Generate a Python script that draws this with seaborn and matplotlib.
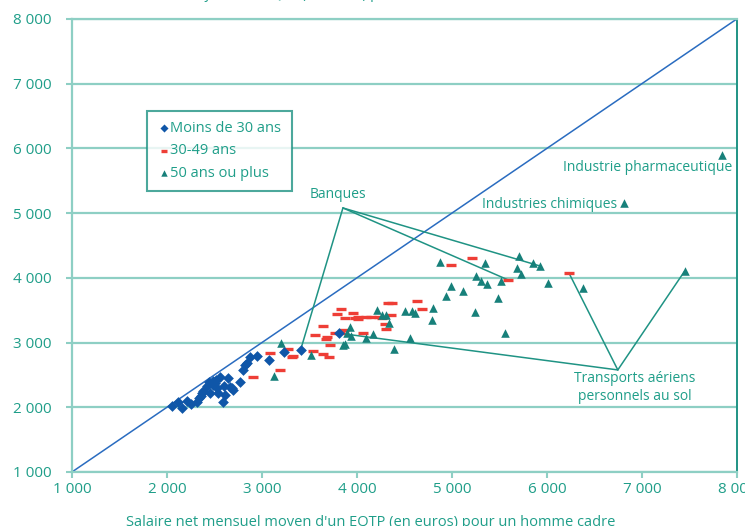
import pandas as pd
import matplotlib.pyplot as plt
from matplotlib.ticker import FuncFormatter
import seaborn as sns

# Style
sns.set_theme(style="white")
plt.rcParams.update({
    'font.family': ['Open Sans', 'DejaVu Sans'],
    'font.size': 10,
})

TEAL_TXT = '#1f9e89'
TEAL_LINE = '#1f9384'
GRID = '#8ecfc4'
BLUE = '#0f56a8'
RED = '#ee3e36'
GREEN = '#17807a'

# Data: x = salaire homme cadre, y = salaire femme cadre (euros)
blue_x = [2049, 2116, 2155, 2207, 2313, 2337, 2365, 2379, 2453, 2470, 2484, 2505,
          2540, 2558, 2593, 2610, 2642, 2663, 2684, 2695, 2768, 2803, 2821, 2839,
          2874, 2944, 3077, 3235, 3407, 3813, 2420, 2490, 2520, 2445, 2530, 2360,
          2600, 2250]
blue_y = [2020, 2087, 1989, 2102, 2087, 2144, 2216, 2252, 2216, 2371, 2406, 2376,
          2216, 2473, 2087, 2190, 2453, 2314, 2298, 2267, 2396, 2577, 2654, 2685,
          2782, 2793, 2731, 2859, 2885, 3144, 2330, 2340, 2420, 2390, 2300, 2180,
          2330, 2050]

red_x = [2902, 3084, 3189, 3277, 3313, 3329, 3534, 3639, 3708, 3558, 3639, 3687,
         3674, 3716, 3786, 3828, 3877, 3961, 3979, 4014, 4014, 4060, 4095, 4144,
         4235, 4260, 4298, 4302, 4329, 4365, 4358, 4635, 4681, 3821, 3768, 3863,
         4986, 5207, 5592, 6234]
red_y = [2464, 2835, 2576, 2896, 2773, 2793, 2875, 2819, 2782, 3117, 3257, 3091,
         3051, 2963, 3442, 3515, 3376, 3453, 3376, 3360, 3400, 3153, 3391, 3391,
         3391, 3376, 3283, 3206, 3607, 3607, 3427, 3643, 3519, 3153, 3153, 3195,
         4199, 4303, 3968, 4071]

green_x = [3129, 3200, 3516, 3849, 3877, 3891, 3926, 3937, 4095, 4165, 4214, 4260,
           4305, 4340, 4389, 4502, 4561, 4582, 4607, 4793, 4803, 4874, 4937, 4986,
           5119, 5245, 5253, 5302, 5350, 5365, 5484, 5512, 5561, 5681, 5708, 5723,
           5856, 5926, 6014, 6382, 7452, 6810, 7839]
green_y = [2484, 2998, 2804, 2958, 2978, 3144, 3236, 3107, 3076, 3128, 3504, 3427,
           3427, 3298, 2901, 3488, 3066, 3488, 3453, 3349, 3530, 4241, 3725, 3875,
           3797, 3468, 4029, 3952, 4226, 3906, 3694, 3952, 3144, 4158, 4343, 4060,
           4226, 4184, 3917, 3839, 4107, 5162, 5900]

groups = ["Moins de 30 ans", "30-49 ans", "50 ans ou plus"]

df = pd.concat([
    pd.DataFrame({'homme': blue_x, 'femme': blue_y, 'age': groups[0]}),
    pd.DataFrame({'homme': red_x, 'femme': red_y, 'age': groups[1]}),
    pd.DataFrame({'homme': green_x, 'femme': green_y, 'age': groups[2]}),
], ignore_index=True)

fig = plt.figure(figsize=(7.45, 5.26), dpi=100)
ax = fig.add_axes([0.0966, 0.1027, 0.8924, 0.8612])

# Diagonal (egalite)
ax.plot([1000, 8000], [1000, 8000], color='#2a6cc0', lw=1.1, zorder=1)

# Leader lines for annotations (drawn under the markers)
def leaders(apex, targets):
    for tx, ty in targets:
        ax.annotate('', xy=(tx, ty), xytext=apex,
                    arrowprops=dict(arrowstyle='-', color=TEAL_LINE, lw=1.1,
                                    shrinkA=0, shrinkB=0), zorder=2)

leaders((3853, 5080), [(blue_x[28], blue_y[28]), (red_x[38], red_y[38]),
                       (green_x[37], green_y[37])])
leaders((6747, 2577), [(blue_x[29], blue_y[29]), (red_x[39], red_y[39]),
                       (green_x[40], green_y[40])])

sub = df[df['age'] == groups[0]]
sns.scatterplot(data=sub, x='homme', y='femme', marker='D', s=30, color=BLUE,
                linewidth=0, label=groups[0], ax=ax, zorder=4)
sub = df[df['age'] == groups[1]]
sns.scatterplot(data=sub, x='homme', y='femme', marker='_', s=42, color=RED,
                linewidth=2.4, label=groups[1], ax=ax, zorder=3)
sub = df[df['age'] == groups[2]]
sns.scatterplot(data=sub, x='homme', y='femme', marker='^', s=38, color=GREEN,
                linewidth=0, label=groups[2], ax=ax, zorder=3)

# Text labels
ax.text(3800, 5281, "Banques", color=TEAL_TXT, fontsize=10, ha='center', va='center')
ax.text(6926, 2561, "Transports aériens\npersonnels au sol", color=TEAL_TXT,
        fontsize=10, ha='center', va='top', linespacing=1.3)
ax.text(6737, 5127, "Industries chimiques", color=TEAL_TXT, fontsize=10,
        ha='right', va='center')
ax.text(7947, 5699, "Industrie pharmaceutique", color=TEAL_TXT, fontsize=10,
        ha='right', va='center')

# Axes
ax.set_xlim(1000, 8000)
ax.set_ylim(1000, 8000)
ax.set_xticks(range(1000, 8001, 1000))
ax.set_yticks(range(1000, 8001, 1000))
fmt = FuncFormatter(lambda v, p: f"{int(v):,}".replace(",", " "))
ax.xaxis.set_major_formatter(fmt)
ax.yaxis.set_major_formatter(fmt)
ax.tick_params(axis='both', colors=GRID, labelcolor=TEAL_TXT, labelsize=11,
               length=4, width=1.5, direction='out', bottom=True, left=True)
ax.tick_params(axis='y', pad=11)
ax.tick_params(axis='x', pad=3)
ax.yaxis.grid(True, color=GRID, lw=1.6)
ax.xaxis.grid(False)
ax.set_axisbelow(True)
for side in ['left', 'bottom', 'top']:
    ax.spines[side].set_color(GRID)
    ax.spines[side].set_linewidth(1.6)
ax.spines['right'].set_color(TEAL_LINE)
ax.spines['right'].set_linewidth(1.4)

ax.set_xlabel("Salaire net mensuel moyen d'un EQTP (en euros) pour un homme cadre",
              color=TEAL_TXT, fontsize=10.5)
ax.xaxis.set_label_coords(0.45, -0.095)
ax.set_ylabel("")

# Titre vertical coupe en haut (hors cadre)
fig.text(0.07, 1.003,
         "Salaire net mensuel moyen d'un EQTP (en euros) pour une femme cadre",
         color=TEAL_TXT, fontsize=10, ha='left', va='baseline')

leg = ax.legend(loc='upper left', bbox_to_anchor=(0.113, 0.797), frameon=True,
                fancybox=False, edgecolor=TEAL_LINE, facecolor='white',
                handletextpad=0.0, handlelength=0.9, borderpad=0.7,
                labelspacing=0.5, markerscale=0.75, fontsize=10.5,
                borderaxespad=0)
leg.get_frame().set_linewidth(1.5)
for t in leg.get_texts():
    t.set_color(TEAL_TXT)

plt.savefig("out.png", dpi=100)
plt.close()
